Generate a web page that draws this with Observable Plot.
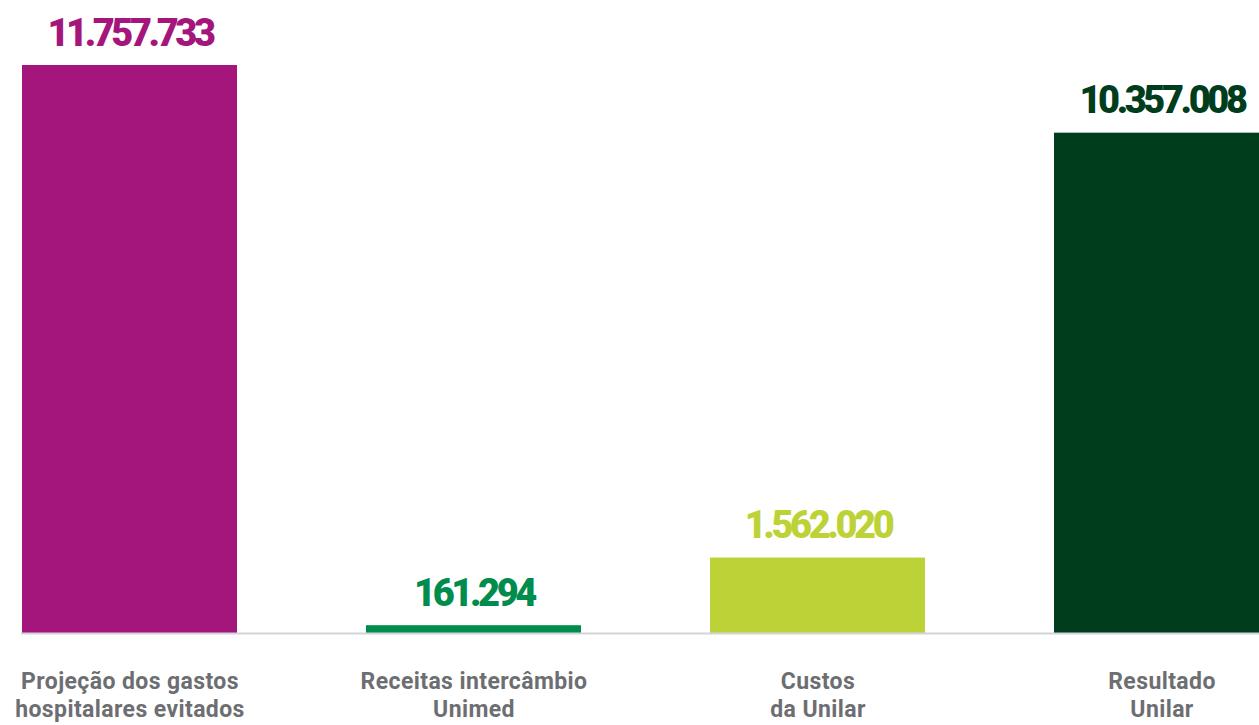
<!DOCTYPE html>
<html>
<head>
<meta charset="utf-8">
<script src="https://cdn.jsdelivr.net/npm/d3@7"></script>
<script src="https://cdn.jsdelivr.net/npm/@observablehq/plot@0.6"></script>
<style>
  html, body { margin: 0; padding: 0; background: #fff; overflow: hidden; width: 1259px; height: 725px; }
  #chart svg { display: block; max-width: none !important; }
  .vals text { letter-spacing: -3.4px; }
  .cats text { letter-spacing: 0.4px; }
</style>
</head>
<body>
<div id="chart"></div>
<script>
const categories = [
  "Projeção dos gastos\nhospitalares evitados",
  "Receitas intercâmbio\nUnimed",
  "Custos\nda Unilar",
  "Resultado\nUnilar"
];
const values = [11757733, 161294, 1562020, 10357008];
const colors = ["#A4167C", "#008C4C", "#BCD236", "#003D1C"];

const data = categories.map((c, i) => ({ category: c, value: values[i], color: colors[i] }));
const fmt = d3.formatLocale({ decimal: ",", thousands: ".", grouping: [3], currency: ["R$ ", ""] }).format(",d");

const chart = Plot.plot({
  width: 1270,
  height: 725,
  marginLeft: 21,
  marginRight: 0,
  marginTop: 65,
  marginBottom: 92,
  style: { fontFamily: "Roboto, sans-serif", background: "#fff", overflow: "visible", maxWidth: "none" },
  x: { domain: categories, paddingInner: 0.376, paddingOuter: 0, axis: null },
  y: { domain: [0, d3.max(values)], axis: null },
  marks: [
    Plot.barY(data, { x: "category", y: "value", fill: "color" }),
    Plot.ruleY([0], { stroke: "#D1D4DA", strokeWidth: 2 }),
    Plot.text(data, {
      x: "category", y: "value", text: d => fmt(d.value), fill: "color",
      lineAnchor: "bottom", dy: -20, fontSize: 38, fontWeight: 900,
      className: "vals"
    }),
    Plot.axisX({
      domain: categories, tickSize: 0, tickPadding: 36, fontSize: 23, fontWeight: 700,
      fill: "#6D6E72", lineHeight: 1.22, label: null, anchor: "bottom",
      tickFormat: d => d, className: "cats"
    })
  ]
});
document.getElementById("chart").appendChild(chart);
</script>
</body>
</html>
